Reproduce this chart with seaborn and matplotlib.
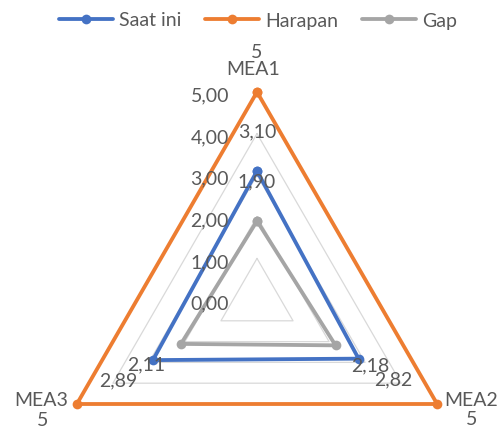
import numpy as np
import pandas as pd
import seaborn as sns
import matplotlib.pyplot as plt
from matplotlib.lines import Line2D

# Radar chart data
categories = ["MEA1", "MEA2", "MEA3"]
series_names = ["Saat ini", "Harapan", "Gap"]
saat_ini = [3.10, 2.82, 2.89]
harapan = [5, 5, 5]
gap = [1.90, 2.18, 2.11]
ring_ticks = [0, 1, 2, 3, 4, 5]
tick_labels = ["0,00", "1,00", "2,00", "3,00", "4,00", "5,00"]

colors = {"Saat ini": "#4472C4", "Harapan": "#ED7D31", "Gap": "#A5A5A5"}
text_color = "#595959"
grid_color = "#D9D9D9"

sns.set_theme(style="white")
plt.rcParams["font.family"] = ["Lato", "DejaVu Sans"]
plt.rcParams["text.color"] = text_color
FS = 14

W, H = 499, 431
fig = plt.figure(figsize=(W / 100, H / 100), dpi=100)
fig.patch.set_facecolor("white")

# polar axes centred on the plot area; outer radius equals the axis maximum
cx, cy, R = 257, 301, 208
ax = fig.add_axes([(cx - R) / W, (H - cy - R) / H, 2 * R / W, 2 * R / H],
                  projection="polar")
ax.set_theta_offset(np.pi / 2)
ax.set_theta_direction(-1)
ax.set_ylim(ring_ticks[0], ring_ticks[-1])
ax.axis("off")

n = len(categories)
angles = np.arange(n) * 2 * np.pi / n
closed = np.append(angles, 2 * np.pi)

# triangular gridlines at each tick level
for v in ring_ticks[1:]:
    ax.plot(closed, [v] * (n + 1), color=grid_color, lw=0.9, zorder=1,
            clip_on=False)

# long-format table for seaborn, each series closed back to the first axis
values = {"Saat ini": saat_ini, "Harapan": harapan, "Gap": gap}
rows = []
for name in series_names:
    vals = values[name]
    for i in range(n + 1):
        rows.append({"series": name, "theta": closed[i], "value": vals[i % n]})
df = pd.DataFrame(rows)

sns.lineplot(data=df, x="theta", y="value", hue="series", hue_order=series_names,
             palette=colors, sort=False, estimator=None, marker="o",
             markersize=7, markeredgewidth=0, linewidth=2.75, legend=False,
             ax=ax, zorder=3, clip_on=False)

# radial tick labels along the first axis
for v, lab in zip(ring_ticks, tick_labels):
    ax.annotate(lab, xy=(0, v), xytext=(-28, -3), textcoords="offset pixels",
                ha="right", va="center", fontsize=FS, color=text_color,
                annotation_clip=False)


def fmt(name, v):
    if name == "Harapan":
        return f"{v:g}"
    return f"{v:.2f}".replace(".", ",")


# data labels pushed radially outward from each point
for name in series_names:
    for ang, v in zip(angles, values[name]):
        dx, dy = 40 * np.sin(ang), 40 * np.cos(ang)
        if name == "Harapan" and dy < 0:
            dy = -15  # keep the outer labels inside the figure
        ax.annotate(fmt(name, v), xy=(ang, v), xytext=(dx, dy),
                    textcoords="offset pixels", ha="center", va="center",
                    fontsize=FS, color=text_color, annotation_clip=False,
                    zorder=5)

# category labels next to the outer vertices
cat_pos = [((-4, 23), "center"), ((7, 4), "left"), ((-9, 4), "right")]
for ang, cat, (off, ha) in zip(angles, categories, cat_pos):
    ax.annotate(cat, xy=(ang, ring_ticks[-1]), xytext=off,
                textcoords="offset pixels", ha=ha, va="center",
                fontsize=FS, color=text_color, annotation_clip=False)

handles = [Line2D([], [], color=colors[s], lw=2.75, marker="o", markersize=7,
                  markeredgewidth=0) for s in series_names]
fig.legend(handles, series_names, loc="center", bbox_to_anchor=(0.517, 1 - 21 / H),
           ncol=3, frameon=False, fontsize=FS, handlelength=2.8,
           handletextpad=0.3, columnspacing=1.2, labelcolor=text_color)

fig.savefig("out.png", dpi=100, facecolor="white")
